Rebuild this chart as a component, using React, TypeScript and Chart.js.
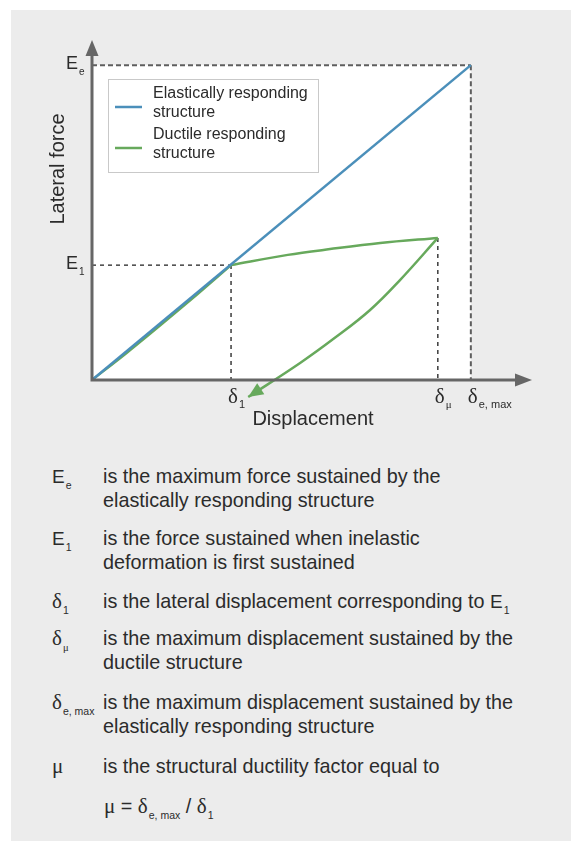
import React, { useEffect, useRef } from 'react';
import { Chart, registerables } from 'chart.js';
Chart.register(...registerables);

// ---- data (arbitrary units: displacement 0..100, force 0..100) ----
const elasticX = [0, 86.1];
const elasticY = [0, 92.6];
const ductileLoadX = [0, 8, 16, 24, 31.6];
const ductileLoadY = [0, 8.1, 16.6, 25.3, 33.8];
const ductilePlateauX = [31.6, 44.5, 54.1, 65.5, 78.6];
const ductilePlateauY = [33.8, 36.8, 38.5, 40.3, 41.8];
const ductileUnloadX = [78.6, 70.0, 63.2, 55.2, 47.3, 35.5];
const ductileUnloadY = [41.8, 29.4, 20.6, 12.4, 5.0, -5.0];

const forceMarkMain = ['E', 'E'];
const forceMarkSub = ['e', '1'];
const forceMarkValues = [92.6, 33.8];
const dispMarkSub = ['1', 'μ', 'e, max'];
const dispMarkValues = [31.6, 78.6, 86.1];
const dispMarkForce = [33.8, 41.8, 92.6];

const legendLabels = [
  ['Elastically responding', 'structure'],
  ['Ductile responding', 'structure'],
];
const xTitle = 'Displacement';
const yTitle = 'Lateral force';

const BLUE = '#4b8fba';
const GREEN = '#67a95c';
const AXIS = '#666666';
const TEXT = '#2b2b2b';
const SANS = '"Liberation Sans", Arial, Helvetica, sans-serif';
const SERIF = '"Liberation Serif", "Times New Roman", serif';

const toPts = (xs: number[], ys: number[]) => xs.map((v, i) => ({ x: v, y: ys[i] }));

const diagramPlugin = {
  id: 'diagram',
  beforeDatasetsDraw(chart: any) {
    const { ctx, scales } = chart;
    const x = scales.x, y = scales.y;
    const x0 = x.getPixelForValue(0), y0 = y.getPixelForValue(0);
    const xe = x.getPixelForValue(dispMarkValues[2]);
    const ye = y.getPixelForValue(forceMarkValues[0]);
    ctx.save();
    ctx.fillStyle = '#ffffff';
    ctx.fillRect(x0, ye, xe - x0, y0 - ye);

    // grey dashed (Ee / delta e,max)
    ctx.strokeStyle = '#5e5e5e';
    ctx.lineWidth = 2;
    ctx.setLineDash([5, 3]);
    ctx.beginPath();
    ctx.moveTo(x0, ye); ctx.lineTo(xe, ye);
    ctx.moveTo(xe, ye); ctx.lineTo(xe, y0);
    ctx.stroke();

    // black dashed
    ctx.strokeStyle = '#1e1e1e';
    ctx.lineWidth = 1.3;
    ctx.setLineDash([4, 4]);
    const x1 = x.getPixelForValue(dispMarkValues[0]);
    const y1 = y.getPixelForValue(forceMarkValues[1]);
    const xm = x.getPixelForValue(dispMarkValues[1]);
    const ym = y.getPixelForValue(dispMarkForce[1]);
    ctx.beginPath();
    ctx.moveTo(x0, y1); ctx.lineTo(x1, y1);
    ctx.moveTo(x1, y1); ctx.lineTo(x1, y0);
    ctx.moveTo(xm, ym); ctx.lineTo(xm, y0);
    ctx.stroke();
    ctx.restore();
  },
  afterDatasetsDraw(chart: any) {
    const { ctx, scales, chartArea } = chart;
    const x = scales.x, y = scales.y;
    const x0 = x.getPixelForValue(0), y0 = y.getPixelForValue(0);
    const xTip = x.getPixelForValue(100), yTip = y.getPixelForValue(100);
    ctx.save();
    // axes
    ctx.strokeStyle = AXIS;
    ctx.fillStyle = AXIS;
    ctx.lineWidth = 3;
    ctx.beginPath();
    ctx.moveTo(x0, y0 + 1.5); ctx.lineTo(x0, yTip + 12);
    ctx.moveTo(x0 - 1.5, y0); ctx.lineTo(xTip - 12, y0);
    ctx.stroke();
    ctx.beginPath();
    ctx.moveTo(x0, yTip); ctx.lineTo(x0 + 6.5, yTip + 16); ctx.lineTo(x0 - 6.5, yTip + 16); ctx.closePath();
    ctx.fill();
    ctx.beginPath();
    ctx.moveTo(xTip, y0); ctx.lineTo(xTip - 17, y0 - 6.5); ctx.lineTo(xTip - 17, y0 + 6.5); ctx.closePath();
    ctx.fill();

    // green arrow head at end of unloading
    const n = ductileUnloadX.length;
    const tx = x.getPixelForValue(ductileUnloadX[n - 1]);
    const ty = y.getPixelForValue(ductileUnloadY[n - 1]);
    const px = x.getPixelForValue(ductileUnloadX[n - 2]);
    const py = y.getPixelForValue(ductileUnloadY[n - 2]);
    const ang = Math.atan2(ty - py, tx - px);
    const L = 15, W = 6.5;
    ctx.fillStyle = GREEN;
    ctx.beginPath();
    ctx.moveTo(tx, ty);
    ctx.lineTo(tx - L * Math.cos(ang) + W * Math.sin(ang), ty - L * Math.sin(ang) - W * Math.cos(ang));
    ctx.lineTo(tx - L * Math.cos(ang) - W * Math.sin(ang), ty - L * Math.sin(ang) + W * Math.cos(ang));
    ctx.closePath();
    ctx.fill();

    // force marks
    ctx.fillStyle = TEXT;
    ctx.textBaseline = 'alphabetic';
    forceMarkValues.forEach((v, i) => {
      const yy = y.getPixelForValue(v);
      ctx.font = `18px ${SANS}`;
      ctx.textAlign = 'right';
      ctx.fillText(forceMarkMain[i], x0 - 14, yy + 3.5);
      ctx.font = `10px ${SANS}`;
      ctx.textAlign = 'left';
      ctx.fillText(forceMarkSub[i], x0 - 13, yy + 10);
    });
    // displacement marks
    dispMarkValues.forEach((v, i) => {
      const xx = x.getPixelForValue(v);
      ctx.font = `21px ${SERIF}`;
      ctx.textAlign = 'left';
      ctx.fillText('δ', xx - 3, y0 + 23);
      const w = ctx.measureText('δ').width;
      ctx.font = dispMarkSub[i] === 'μ' ? `11px ${SERIF}` : `11px ${SANS}`;
      ctx.fillText(dispMarkSub[i], xx - 3 + w + 1, y0 + 27.5);
    });

    // axis titles
    ctx.font = `20px ${SANS}`;
    ctx.textAlign = 'center';
    ctx.textBaseline = 'middle';
    ctx.fillText(xTitle, (x0 + xTip) / 2 + 1, y0 + 39);
    ctx.save();
    ctx.translate(x0 - 34, chartArea.top + 129);
    ctx.rotate(-Math.PI / 2);
    ctx.fillText(yTitle, 0, 0);
    ctx.restore();

    // legend
    const lx = chartArea.left + 16, ly = chartArea.top + 39;
    ctx.fillStyle = '#ffffff';
    ctx.fillRect(lx, ly, 210, 93);
    ctx.strokeStyle = '#c9c9c9';
    ctx.lineWidth = 1;
    ctx.strokeRect(lx + 0.5, ly + 0.5, 210, 93);
    const colors = [BLUE, GREEN];
    legendLabels.forEach((lines, i) => {
      const cy = ly + 28 + i * 41;
      ctx.strokeStyle = colors[i];
      ctx.lineWidth = 2.5;
      ctx.beginPath();
      ctx.moveTo(lx + 7, cy); ctx.lineTo(lx + 34, cy);
      ctx.stroke();
      ctx.fillStyle = TEXT;
      ctx.font = `16px ${SANS}`;
      ctx.textAlign = 'left';
      ctx.textBaseline = 'middle';
      lines.forEach((t, j) => ctx.fillText(t, lx + 45, cy - 13 + j * 19));
    });
    ctx.restore();
  },
};

function Sym({ main, sub, serif }: { main: string; sub?: string; serif?: boolean }) {
  return (
    <span style={{ whiteSpace: 'nowrap' }}>
      <span style={{ fontFamily: serif ? SERIF : SANS, fontSize: serif ? 21 : 19 }}>{main}</span>
      {sub ? (
        <span style={{ fontFamily: sub === 'μ' ? SERIF : SANS, fontSize: 10.5, position: 'relative', top: 6, marginLeft: 1 }}>{sub}</span>
      ) : null}
    </span>
  );
}

const defTexts = [
  ['is the maximum force sustained by the', 'elastically responding structure'],
  ['is the force sustained when inelastic', 'deformation is first sustained'],
  ['is the lateral displacement corresponding to '],
  ['is the maximum displacement sustained by the', 'ductile structure'],
  ['is the maximum displacement sustained by the', 'elastically responding structure'],
  ['is the structural ductility factor equal to'],
];
const defSyms = [
  { main: 'E', sub: 'e', serif: false },
  { main: 'E', sub: '1', serif: false },
  { main: 'δ', sub: '1', serif: true },
  { main: 'δ', sub: 'μ', serif: true },
  { main: 'δ', sub: 'e, max', serif: true },
  { main: 'μ', sub: '', serif: true },
];
const defTops = [455, 517, 580, 617, 681, 745];

export default function App() {
  const ref = useRef<HTMLCanvasElement>(null);
  useEffect(() => {
    if (!ref.current) return;
    const chart = new Chart(ref.current, {
      type: 'scatter',
      data: {
        datasets: [
          { label: 'Elastically responding structure', data: toPts(elasticX, elasticY), showLine: true, borderColor: BLUE, borderWidth: 2.5, pointRadius: 0, clip: false as any },
          { label: 'Ductile responding structure', data: toPts(ductileLoadX, ductileLoadY), showLine: true, borderColor: GREEN, borderWidth: 2.5, pointRadius: 0, tension: 0.3, clip: false as any },
          { label: 'Ductile plateau', data: toPts(ductilePlateauX, ductilePlateauY), showLine: true, borderColor: GREEN, borderWidth: 2.5, pointRadius: 0, tension: 0.35, clip: false as any },
          { label: 'Ductile unloading', data: toPts(ductileUnloadX, ductileUnloadY), showLine: true, borderColor: GREEN, borderWidth: 2.5, pointRadius: 0, tension: 0.4, clip: false as any },
        ],
      },
      options: {
        animation: false,
        responsive: false,
        events: [],
        layout: { padding: { left: 81, right: 39, top: 30, bottom: 70 } },
        scales: {
          x: { type: 'linear', min: 0, max: 100, display: false },
          y: { type: 'linear', min: 0, max: 100, display: false },
        },
        plugins: { legend: { display: false }, tooltip: { enabled: false } },
      },
      plugins: [diagramPlugin],
    });
    return () => chart.destroy();
  }, []);

  return (
    <div style={{ position: 'fixed', left: 11, top: 10, right: 0, bottom: 0, background: '#ececec', color: TEXT, fontFamily: SANS }}>
      <canvas ref={ref} width={560} height={440} style={{ position: 'absolute', left: 0, top: 0, width: 560, height: 440 }} />
      {defTexts.map((lines, i) => (
        <div key={i} style={{ position: 'absolute', top: defTops[i], left: 0, width: 560, lineHeight: '23.5px', fontSize: 19.8 }}>
          <div style={{ position: 'absolute', left: 41, top: 0 }}>
            <Sym {...defSyms[i]} />
          </div>
          <div style={{ position: 'absolute', left: 92, top: 0, whiteSpace: 'nowrap' }}>
            {lines.map((t, j) => (
              <div key={j}>
                {t}
                {i === 2 ? <Sym main="E" sub="1" /> : null}
              </div>
            ))}
          </div>
        </div>
      ))}
      <div style={{ position: 'absolute', top: 785, left: 93, lineHeight: '23.5px', fontSize: 19.8, whiteSpace: 'nowrap' }}>
        <span style={{ fontFamily: SERIF, fontSize: 21 }}>μ</span> = <Sym main="δ" sub="e, max" serif /> / <Sym main="δ" sub="1" serif />
      </div>
    </div>
  );
}
